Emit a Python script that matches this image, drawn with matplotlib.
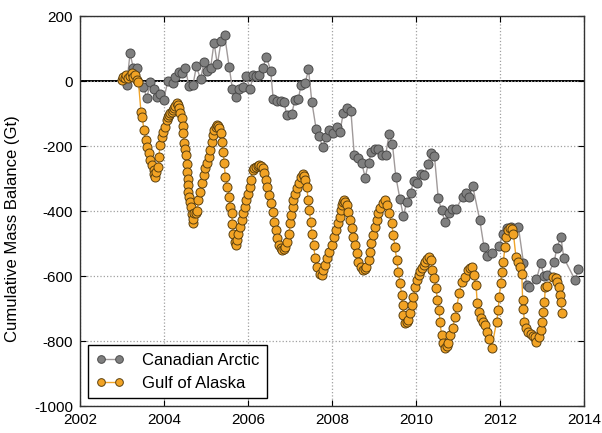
import matplotlib
matplotlib.use("Agg")
import matplotlib.pyplot as plt

plt.rcParams['font.family'] = ['Liberation Sans', 'DejaVu Sans']
plt.rcParams['axes.unicode_minus'] = False

# Canadian Arctic (monthly)
ca_years = [2003.11, 2003.19, 2003.27, 2003.35, 2003.51, 2003.59, 2003.67, 2003.75, 2003.83, 2003.91,
            2003.99, 2004.09, 2004.21, 2004.27, 2004.35, 2004.43, 2004.51, 2004.59, 2004.69, 2004.77,
            2004.87, 2004.95, 2005.03, 2005.11, 2005.19, 2005.27, 2005.36, 2005.44, 2005.55, 2005.63,
            2005.71, 2005.79, 2005.87, 2005.95, 2006.05, 2006.13, 2006.19, 2006.27, 2006.35, 2006.44,
            2006.54, 2006.60, 2006.70, 2006.78, 2006.86, 2006.92, 2007.04, 2007.12, 2007.20, 2007.26,
            2007.36, 2007.44, 2007.52, 2007.62, 2007.69, 2007.78, 2007.86, 2007.94, 2008.03, 2008.11,
            2008.19, 2008.27, 2008.35, 2008.45, 2008.53, 2008.63, 2008.71, 2008.79, 2008.87, 2008.94,
            2009.02, 2009.10, 2009.18, 2009.28, 2009.36, 2009.44, 2009.52, 2009.62, 2009.70, 2009.78,
            2009.87, 2009.95, 2010.03, 2010.12, 2010.20, 2010.28, 2010.36, 2010.44, 2010.53, 2010.61,
            2010.69, 2010.79, 2010.86, 2010.95, 2011.11, 2011.19, 2011.27, 2011.35, 2011.52, 2011.62,
            2011.70, 2011.80, 2011.98, 2012.08, 2012.16, 2012.26, 2012.44, 2012.56, 2012.64, 2012.70,
            2012.87, 2012.97, 2013.05, 2013.13, 2013.29, 2013.35, 2013.45, 2013.52, 2013.79, 2013.87]
ca_vals = [-12, 85, 39, 39, -17, -53, -4, -23, -48, -40,
           -58, 0, -7, 13, 29, 26, 39, -15, -12, 46,
           5, 59, 31, 41, 118, 51, 124, 143, 44, -25,
           -48, -25, -17, 15, -23, 18, 15, 18, 39, 75,
           31, -56, -62, -62, -64, -105, -100, -58, -56, -12,
           -7, 36, -64, -146, -168, -204, -171, -151, -161, -141,
           -156, -97, -84, -92, -228, -238, -253, -297, -251, -217,
           -210, -210, -228, -226, -163, -195, -294, -364, -415, -372,
           -344, -306, -314, -285, -290, -254, -220, -231, -361, -397,
           -433, -407, -394, -395, -356, -344, -356, -323, -428, -510,
           -538, -528, -508, -469, -453, -448, -450, -559, -628, -633,
           -610, -561, -599, -597, -558, -515, -479, -544, -612, -579]

# Gulf of Alaska (10-day solutions)
ga_years = [2002.99, 2003.03, 2003.06, 2003.09, 2003.14, 2003.19, 2003.23, 2003.27, 2003.31, 2003.35,
            2003.39, 2003.45, 2003.48, 2003.52, 2003.56, 2003.59, 2003.63, 2003.67, 2003.71, 2003.75,
            2003.77, 2003.79, 2003.82, 2003.86, 2003.88, 2003.90, 2003.94, 2003.98, 2004.02, 2004.06,
            2004.09, 2004.12, 2004.15, 2004.18, 2004.21, 2004.24, 2004.27, 2004.30, 2004.33, 2004.36,
            2004.39, 2004.42, 2004.44, 2004.46, 2004.48, 2004.50, 2004.52, 2004.54, 2004.55, 2004.56,
            2004.57, 2004.58, 2004.60, 2004.62, 2004.64, 2004.66, 2004.68, 2004.70, 2004.72, 2004.76,
            2004.79, 2004.82, 2004.86, 2004.90, 2004.94, 2004.98, 2005.02, 2005.06, 2005.10, 2005.14,
            2005.16, 2005.20, 2005.23, 2005.26, 2005.29, 2005.32, 2005.35, 2005.37, 2005.41, 2005.43,
            2005.46, 2005.51, 2005.55, 2005.58, 2005.61, 2005.63, 2005.65, 2005.69, 2005.71, 2005.74,
            2005.77, 2005.81, 2005.85, 2005.89, 2005.93, 2005.96, 2006.00, 2006.04, 2006.07, 2006.11,
            2006.15, 2006.19, 2006.23, 2006.27, 2006.31, 2006.35, 2006.38, 2006.43, 2006.45, 2006.50,
            2006.54, 2006.59, 2006.62, 2006.66, 2006.70, 2006.74, 2006.78, 2006.81, 2006.85, 2006.87,
            2006.93, 2006.97, 2007.01, 2007.03, 2007.06, 2007.08, 2007.13, 2007.17, 2007.21, 2007.25,
            2007.30, 2007.34, 2007.36, 2007.40, 2007.43, 2007.46, 2007.49, 2007.52, 2007.56, 2007.60,
            2007.65, 2007.71, 2007.75, 2007.78, 2007.83, 2007.89, 2007.94, 2008.00, 2008.05, 2008.10,
            2008.14, 2008.18, 2008.21, 2008.24, 2008.27, 2008.29, 2008.32, 2008.35, 2008.39, 2008.43,
            2008.47, 2008.51, 2008.55, 2008.59, 2008.63, 2008.68, 2008.74, 2008.78, 2008.81, 2008.87,
            2008.90, 2008.94, 2008.98, 2009.02, 2009.06, 2009.10, 2009.14, 2009.21, 2009.26, 2009.31,
            2009.36, 2009.42, 2009.46, 2009.50, 2009.54, 2009.58, 2009.62, 2009.66, 2009.68, 2009.70,
            2009.74, 2009.78, 2009.82, 2009.86, 2009.90, 2009.94, 2009.98, 2010.02, 2010.06, 2010.10,
            2010.14, 2010.18, 2010.22, 2010.26, 2010.30, 2010.35, 2010.39, 2010.43, 2010.48, 2010.51,
            2010.55, 2010.57, 2010.61, 2010.65, 2010.69, 2010.73, 2010.76, 2010.81, 2010.87, 2010.93,
            2010.97, 2011.03, 2011.09, 2011.17, 2011.25, 2011.29, 2011.33, 2011.38, 2011.43, 2011.46,
            2011.51, 2011.55, 2011.60, 2011.65, 2011.70, 2011.74, 2011.80, 2011.92, 2011.96, 2011.98,
            2012.02, 2012.04, 2012.08, 2012.12, 2012.14, 2012.20, 2012.25, 2012.28, 2012.32, 2012.38,
            2012.44, 2012.48, 2012.52, 2012.54, 2012.56, 2012.58, 2012.62, 2012.67, 2012.73, 2012.79,
            2012.83, 2012.87, 2012.92, 2012.97, 2013.01, 2013.03, 2013.06, 2013.08, 2013.12, 2013.27,
            2013.33, 2013.37, 2013.40, 2013.43, 2013.45, 2013.48]
ga_vals = [3, 13, 8, 18, 8, 15, 24, 13, 18, 3,
           -2, -94, -110, -151, -181, -202, -222, -243, -258, -274,
           -285, -294, -280, -264, -233, -197, -171, -156, -140, -120,
           -110, -105, -98, -94, -88, -84, -76, -69, -75, -84,
           -98, -115, -138, -161, -192, -210, -228, -255, -279, -300,
           -320, -340, -356, -372, -387, -410, -438, -425, -407, -407,
           -400, -366, -340, -315, -289, -268, -253, -233, -212, -187,
           -166, -151, -140, -135, -138, -145, -161, -187, -218, -253,
           -294, -325, -356, -387, -407, -440, -470, -494, -505, -490,
           -469, -448, -428, -407, -387, -366, -346, -325, -305, -274,
           -268, -264, -260, -258, -262, -268, -284, -305, -325, -351,
           -376, -402, -433, -458, -484, -505, -515, -520, -518, -510,
           -494, -469, -438, -412, -387, -366, -346, -330, -315, -294,
           -286, -292, -305, -325, -366, -397, -433, -469, -505, -545,
           -571, -592, -597, -582, -566, -545, -525, -505, -479, -458,
           -438, -418, -397, -381, -372, -366, -372, -381, -402, -428,
           -453, -479, -505, -530, -556, -573, -580, -578, -573, -551,
           -525, -499, -474, -448, -428, -407, -392, -376, -366, -381,
           -407, -438, -474, -510, -551, -587, -622, -658, -689, -720,
           -745, -740, -735, -715, -689, -664, -633, -612, -597, -585,
           -576, -566, -556, -548, -540, -551, -582, -607, -638, -674,
           -705, -741, -782, -807, -822, -815, -807, -782, -761, -725,
           -694, -653, -618, -602, -582, -576, -571, -597, -628, -684,
           -710, -730, -741, -751, -771, -792, -822, -740, -705, -664,
           -622, -587, -556, -510, -479, -458, -453, -455, -469, -540,
           -556, -571, -592, -674, -700, -741, -761, -771, -778, -785,
           -788, -802, -787, -766, -741, -710, -679, -633, -631, -602,
           -607, -618, -633, -658, -679, -715]

fig = plt.figure(figsize=(6.02, 4.33), dpi=100)
ax = fig.add_axes([0.133, 0.062, 0.837, 0.901])

ax.axhline(0, color='black', lw=1.4, zorder=1)

ax.plot(ca_years, ca_vals, color='#a09a9a', lw=1.0, marker='o', markersize=6.5,
        markerfacecolor='#7f7f7f', markeredgecolor='#4a4a4a', markeredgewidth=0.7,
        label='Canadian Arctic', zorder=3)
ax.plot(ga_years, ga_vals, color='#f0a42a', lw=1.0, marker='o', markersize=6.5,
        markerfacecolor='#f2a324', markeredgecolor='#5a4010', markeredgewidth=0.7,
        label='Gulf of Alaska', zorder=4)

ax.set_xlim(2002, 2014)
ax.set_ylim(-1000, 200)
ax.set_xticks([2002, 2004, 2006, 2008, 2010, 2012, 2014])
ax.set_yticks([-1000, -800, -600, -400, -200, 0, 200])
ax.tick_params(direction='in', top=True, right=True, labelsize=11, length=4, pad=5)
ax.grid(True, linestyle=':', color='#a0a0a0', lw=0.9)
for s in ax.spines.values():
    s.set_color('#333333')
    s.set_linewidth(1.0)

ax.set_ylabel('Cumulative Mass Balance (Gt)', fontsize=12)
ax.yaxis.set_label_coords(-0.119, 0.455)

leg = ax.legend(loc='lower left', fontsize=12, fancybox=False, edgecolor='black',
                framealpha=1, borderpad=0.45, numpoints=2, handlelength=1.7,
                handletextpad=1.1, borderaxespad=0, markerscale=0.85,
                bbox_to_anchor=(0.016, 0.02))
leg.get_frame().set_linewidth(1.0)

fig.savefig('out.png', dpi=100)
